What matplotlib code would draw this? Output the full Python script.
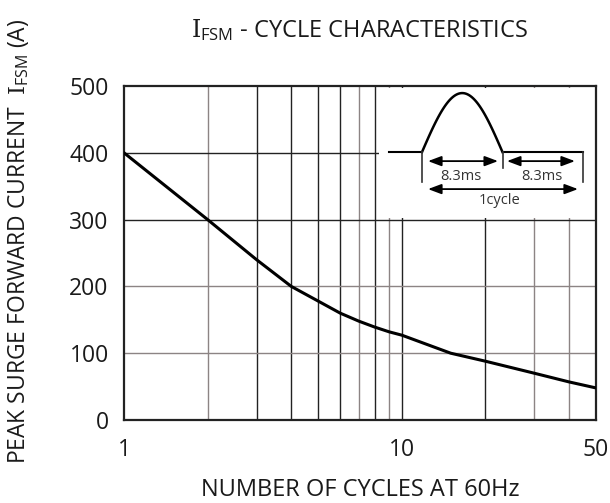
import numpy as np
import matplotlib
matplotlib.use('Agg')
import matplotlib.pyplot as plt
from matplotlib.patches import Rectangle

plt.rcParams['font.family'] = ['Open Sans', 'DejaVu Sans']
plt.rcParams['mathtext.fontset'] = 'custom'
plt.rcParams['mathtext.rm'] = 'Open Sans'
plt.rcParams['mathtext.it'] = 'DejaVu Serif'

# datos
ciclos = [1, 2, 3, 4, 5, 6, 7, 8, 9, 10, 15, 20, 30, 40, 50]
corriente = [400, 300, 240, 200, 178, 160, 148, 139, 132, 127, 100, 88, 70, 57, 48]

# grilla
grid_x = [2, 3, 4, 5, 6, 7, 8, 9, 10, 20, 30, 40]
color_x = ['g', 'd', 'd', 'd', 'd', 'g', 'd', 'g', 'd', 'd', 'g', 'g']
grid_y = [100, 200, 300, 400]
color_y = ['g', 'g', 'd', 'd']
colores = {'d': '#222222', 'g': '#8c8484'}

fig = plt.figure(figsize=(6.10, 5.03), dpi=100)
ax = fig.add_axes([124/610, 83/503, 472/610, 334/503])

for gx, c in zip(grid_x, color_x):
    ax.axvline(gx, color=colores[c], lw=1.0, zorder=1)
for gy, c in zip(grid_y, color_y):
    ax.axhline(gy, color=colores[c], lw=1.0, zorder=1)

ax.plot(ciclos, corriente, color='k', lw=2.2, zorder=3)

ax.set_xscale('log')
ax.set_xlim(1, 50)
ax.set_ylim(0, 500)
ax.set_xticks([1, 10, 50])
ax.set_xticklabels(['1', '10', '50'])
ax.xaxis.set_minor_locator(matplotlib.ticker.NullLocator())
ax.set_yticks([0, 100, 200, 300, 400, 500])
ax.tick_params(axis='both', length=0, labelsize=16.5, colors='#1a1a1a')
ax.tick_params(axis='y', pad=11)
ax.tick_params(axis='x', pad=13)
for s in ax.spines.values():
    s.set_linewidth(1.6)
    s.set_color('#222222')

# recuadro blanco para el esquema
ax.add_patch(Rectangle((8.3, 303), 50 - 8.3, 194, facecolor='white',
                       edgecolor='none', zorder=2))

fig.text(360/610, 1 - 30/503, r'$I_{\mathrm{FSM}}$ - CYCLE CHARACTERISTICS',
         ha='center', va='center', fontsize=17, color='#1a1a1a')
fig.text(360/610, 1 - 490/503, 'NUMBER OF CYCLES AT 60Hz',
         ha='center', va='center', fontsize=17, color='#1a1a1a')
fig.text(19/610, 1 - 241/503, r'PEAK SURGE FORWARD CURRENT  $I_{\mathrm{FSM}}$ (A)',
         ha='center', va='center', rotation=90, fontsize=16.5, color='#1a1a1a')

# esquema de la onda (tiempo en ms)
ins = fig.add_axes([380/610, 1 - 217/503, 216/610, 131/503])
ins.set_xlim(-4.33, 17.94)
ins.set_ylim(-1.10, 1.12)
ins.axis('off')
t = np.linspace(0, 8.3, 100)
ins.plot([-3.4, 0], [0, 0], color='k', lw=1.5)
ins.plot(t, np.sin(np.pi * t / 8.3), color='k', lw=1.8)
ins.plot([8.3, 16.6], [0, 0], color='k', lw=1.5)
ins.plot([0, 0], [0, -0.51], color='#333333', lw=1.2)
ins.plot([8.3, 8.3], [0, -0.27], color='#333333', lw=1.2)
ins.plot([16.6, 16.6], [0, -0.51], color='#333333', lw=1.2)
flecha = dict(arrowstyle='<|-|>,head_length=0.8,head_width=0.3', color='k',
              lw=1.3, shrinkA=0, shrinkB=0, mutation_scale=10)
ins.annotate('', xy=(0.62, -0.153), xytext=(7.84, -0.153), arrowprops=flecha)
ins.annotate('', xy=(8.76, -0.153), xytext=(15.77, -0.153), arrowprops=flecha)
ins.annotate('', xy=(0.62, -0.627), xytext=(16.08, -0.627), arrowprops=flecha)
ins.text(4.0, -0.42, '8.3ms', ha='center', va='center', fontsize=10.5, color='#333333')
ins.text(12.4, -0.42, '8.3ms', ha='center', va='center', fontsize=10.5, color='#333333')
ins.text(8.0, -0.82, '1cycle', ha='center', va='center', fontsize=10.5, color='#333333')

fig.savefig('out.png', dpi=100)
